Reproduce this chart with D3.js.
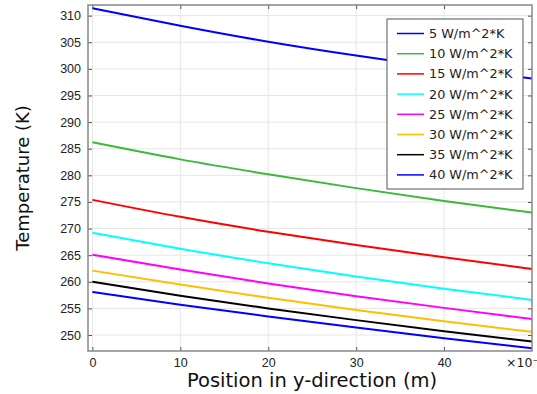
<!DOCTYPE html>
<html>
<head>
<meta charset="utf-8">
<script src="https://cdn.jsdelivr.net/npm/d3@7"></script>
<style>
  body { margin: 0; background: #fff; }
  svg { display: block; font-family: "DejaVu Sans", sans-serif; }
</style>
</head>
<body>
<div id="chart"></div>
<script>
// Temperature vs position for several heat transfer coefficients
const positions = [0, 10, 20, 30, 40, 50]; // x10^-3 m
const seriesNames = ["5 W/m^2*K", "10 W/m^2*K", "15 W/m^2*K", "20 W/m^2*K",
                     "25 W/m^2*K", "30 W/m^2*K", "35 W/m^2*K", "40 W/m^2*K"];
const h5  = [311.4, 308.1, 305.1, 302.5, 300.2, 298.2];
const h10 = [286.2, 283.0, 280.2, 277.6, 275.2, 273.0];
const h15 = [275.4, 272.2, 269.4, 266.9, 264.6, 262.4];
const h20 = [269.2, 266.2, 263.5, 261.0, 258.7, 256.6];
const h25 = [265.1, 262.3, 259.7, 257.3, 255.1, 253.0];
const h30 = [262.1, 259.5, 257.0, 254.7, 252.6, 250.6];
const h35 = [260.0, 257.4, 255.0, 252.8, 250.7, 248.8];
const h40 = [258.1, 255.7, 253.5, 251.4, 249.4, 247.5];
const xTicks = [0, 10, 20, 30, 40];
const yTicks = [250, 255, 260, 265, 270, 275, 280, 285, 290, 295, 300, 305, 310];

const colors = ["#0000ff", "#3cb83c", "#ff0000", "#00ffff", "#ff00ff", "#ffbf00", "#000000", "#0000ff"];
const allSeries = [h5, h10, h15, h20, h25, h30, h35, h40];

const WIDTH = 537, HEIGHT = 394;
const margin = {top: 5, right: 5, bottom: 43, left: 88};
const innerW = WIDTH - margin.left - margin.right;
const innerH = HEIGHT - margin.top - margin.bottom;

const svg = d3.select("#chart").append("svg")
  .attr("width", WIDTH).attr("height", HEIGHT);

const g = svg.append("g").attr("transform", `translate(${margin.left},${margin.top})`);

const x = d3.scaleLinear().domain([-0.5, 50]).range([0, innerW]);
const y = d3.scaleLinear().domain([247, 312]).range([innerH, 0]);

// grid
g.append("g").selectAll("line").data(xTicks).join("line")
  .attr("x1", d => x(d)).attr("x2", d => x(d))
  .attr("y1", 0).attr("y2", innerH)
  .attr("stroke", "#e6e6e6").attr("stroke-width", 1);
g.append("g").selectAll("line").data(yTicks).join("line")
  .attr("x1", 0).attr("x2", innerW)
  .attr("y1", d => y(d)).attr("y2", d => y(d))
  .attr("stroke", "#e6e6e6").attr("stroke-width", 1);

// lines
const line = d3.line()
  .x((d, i) => x(positions[i]))
  .y(d => y(d))
  .curve(d3.curveNatural);

g.append("g").selectAll("path").data(allSeries).join("path")
  .attr("d", d => line(d))
  .attr("fill", "none")
  .attr("stroke", (d, i) => colors[i])
  .attr("stroke-width", 2);

// axes (ticks point inward)
const axisColor = "#888";
function styleAxis(sel) {
  sel.select(".domain").remove();
  sel.selectAll(".tick line").attr("stroke", "#555");
  sel.selectAll(".tick text").attr("fill", "#222").style("font-size", "12.5px");
}
g.append("g").attr("transform", `translate(0,${innerH})`)
  .call(d3.axisBottom(x).tickValues(xTicks).tickSizeInner(-4).tickSizeOuter(0).tickPadding(7))
  .call(styleAxis);
g.append("g")
  .call(d3.axisLeft(y).tickValues(yTicks).tickSizeInner(-4).tickSizeOuter(0).tickPadding(7))
  .call(styleAxis);
g.append("g")
  .call(d3.axisTop(x).tickValues(xTicks).tickSizeInner(-4).tickSizeOuter(0).tickFormat(""))
  .call(styleAxis);
g.append("g").attr("transform", `translate(${innerW},0)`)
  .call(d3.axisRight(y).tickValues(yTicks).tickSizeInner(-4).tickSizeOuter(0).tickFormat(""))
  .call(styleAxis);

// frame
g.append("rect").attr("width", innerW).attr("height", innerH)
  .attr("fill", "none").attr("stroke", axisColor).attr("stroke-width", 1.5);

// x scale multiplier
svg.append("text")
  .attr("x", 506).attr("y", margin.top + innerH + 16)
  .attr("fill", "#222").style("font-size", "12.5px")
  .text("×10⁻³");

// axis titles
svg.append("text")
  .attr("text-anchor", "middle")
  .attr("x", 312)
  .attr("y", 387)
  .attr("fill", "#111").style("font-size", "19.5px")
  .text("Position in y-direction (m)");

svg.append("text")
  .attr("text-anchor", "middle")
  .attr("transform", "rotate(-90)")
  .attr("x", -(margin.top + innerH / 2))
  .attr("y", 29)
  .attr("fill", "#111").style("font-size", "18px")
  .text("Temperature (K)");

// legend
const lg = svg.append("g").attr("transform", "translate(387,19)");
lg.append("rect").attr("width", 136).attr("height", 170)
  .attr("fill", "#fff").attr("stroke", "#555").attr("stroke-width", 1);
const rows = lg.selectAll("g.row").data(seriesNames).join("g")
  .attr("class", "row")
  .attr("transform", (d, i) => `translate(0,${14.5 + i * 20.2})`);
rows.append("line")
  .attr("x1", 10).attr("x2", 37).attr("y1", 0).attr("y2", 0)
  .attr("stroke", (d, i) => colors[i]).attr("stroke-width", 1.5);
rows.append("text")
  .attr("x", 42).attr("dy", "0.35em")
  .attr("fill", "#222").style("font-size", "12.8px")
  .text(d => d);
</script>
</body>
</html>
